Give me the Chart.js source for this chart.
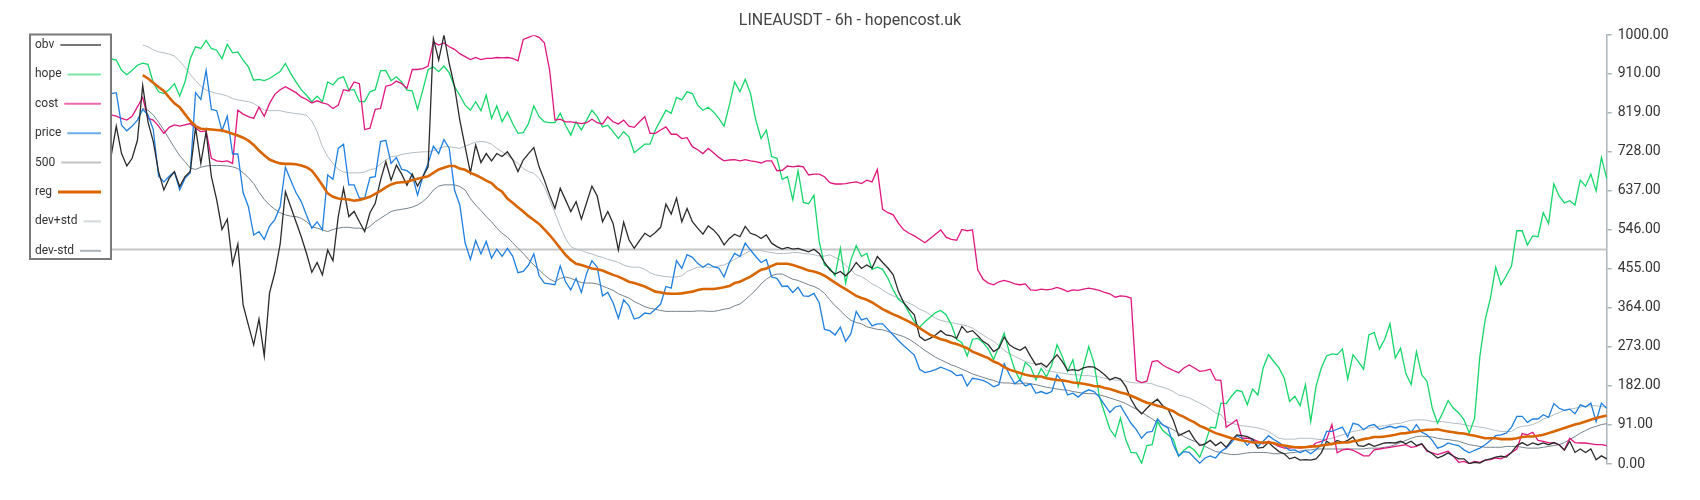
<!DOCTYPE html>
<html><head><meta charset="utf-8">
<script src="https://cdn.jsdelivr.net/npm/chart.js@4.4.1/dist/chart.umd.min.js"></script>
<style>html,body{margin:0;padding:0;background:#fff;}#wrap{position:relative;width:1700px;height:500px;}</style>
</head><body><div id="wrap"><canvas id="c" width="1700" height="500"></canvas></div>
<script>
// ---- data (early points are hidden behind the legend -> null) ----
const pointCount = 305;
const labels = Array.from({length: pointCount}, (_, i) => String(i));
const hiddenLead = 21;   // points hidden behind the legend box
const bandLead = 27;     // rolling series start later

const obvValues = [716,788,724,695,
713,755,883,798,752,682,639,666,682,647,670,682,785,701,775,670,616,547,571,466,513,371,324,278,338,252,399,446,512,635,600,565,530,491,447,470,441,
499,474,577,643,577,589,565,542,586,608,662,705,662,697,676,650,676,648,670,693,992,942,1000,934,880,802,740,679,744,703,724,707,724,717,
728,710,682,709,724,738,693,662,627,596,643,616,589,612,571,610,648,625,565,589,561,499,564,523,503,521,538,530,540,552,606,583,620,565,
596,565,550,536,555,546,532,511,526,536,530,554,538,534,526,534,515,507,501,505,501,503,499,495,501,491,470,453,443,449,439,451,470,456,
464,457,484,470,457,441,402,376,361,348,297,288,293,301,311,301,299,293,321,307,311,299,286,278,262,270,296,278,270,265,273,251,231,235,
226,241,255,239,218,220,218,224,227,226,218,208,196,202,198,181,151,130,117,130,142,151,136,128,102,66,72,78,58,43,47,55,43,51,
39,55,68,66,64,58,37,39,50,39,29,24,12,16,9,10,9,12,26,53,45,55,50,55,63,43,41,47,41,45,49,50,49,53,
47,53,43,47,32,24,14,19,26,18,12,12,1,4,2,9,12,16,18,16,27,43,50,43,49,45,49,45,50,45,32,53,27,35,27,35,10,19,12];

const hopeValues = [945,942,918,908,
918,930,935,932,889,868,864,873,887,858,891,945,973,969,988,969,965,945,979,959,961,942,926,895,897,894,899,907,915,934,911,891,873,860,845,858,845,
891,884,899,903,872,873,845,845,868,873,917,918,894,903,891,872,870,827,872,920,926,915,928,912,880,860,837,825,845,824,860,806,835,798,
821,794,771,773,794,835,810,798,796,796,818,790,767,798,779,802,825,810,786,790,775,759,775,763,726,736,746,746,779,802,825,818,855,849,
868,864,837,825,832,821,806,788,837,891,868,897,864,802,759,779,717,713,664,670,616,684,610,607,627,519,464,457,439,503,422,476,509,484,
491,454,459,454,433,406,384,375,353,332,319,332,342,353,358,348,325,291,283,252,291,293,283,268,244,274,305,259,220,195,237,226,196,223,
203,231,278,251,216,243,181,227,274,235,158,119,81,64,107,57,27,26,2,43,45,99,78,68,58,18,32,41,32,16,47,86,84,142,
141,158,172,169,138,175,161,224,255,239,224,200,146,158,136,185,99,181,224,252,257,255,268,198,255,239,221,301,307,268,291,327,247,270,
211,185,262,208,193,130,95,120,148,130,119,103,72,107,251,336,387,459,418,439,462,544,544,511,532,530,586,561,653,625,609,614,604,662,648,676,637,715,666];

const costValues = [814,811,806,802,
811,833,855,806,802,788,771,785,791,788,791,794,783,775,777,713,707,705,707,701,825,816,810,806,832,811,841,862,873,880,873,866,856,850,842,847,842,
839,829,837,873,870,891,887,780,783,827,829,881,884,893,887,876,920,920,922,928,984,977,982,973,967,957,950,943,948,943,946,946,948,947,
948,946,940,990,995,1000,995,982,918,802,804,798,798,796,794,796,804,796,793,810,798,793,802,788,785,798,810,771,771,779,786,769,769,759,
761,740,733,724,736,726,715,707,709,710,707,710,707,705,702,707,707,684,685,695,693,695,693,674,676,676,670,656,653,653,654,656,658,654,
662,658,687,594,586,581,561,546,538,532,524,516,526,536,546,529,524,522,547,544,546,453,431,422,418,425,428,425,420,418,420,406,405,408,
406,408,412,408,402,406,405,408,410,408,405,400,397,389,392,391,387,195,190,193,239,241,231,224,218,213,224,231,224,216,218,221,196,195,
86,94,103,60,60,58,53,47,53,47,41,37,37,39,37,39,39,49,53,57,92,26,33,35,32,26,19,19,33,35,37,39,41,43,
45,39,41,47,30,26,22,26,30,18,4,6,1,6,4,9,10,14,12,19,27,35,71,68,74,55,53,50,49,45,33,60,50,49,49,47,45,45,43];

const priceValues = [864,866,790,777,
788,802,827,814,780,671,658,671,681,639,666,679,866,850,918,827,824,777,811,723,723,633,600,534,542,524,555,570,600,692,662,633,612,580,550,565,546,
674,664,736,746,651,651,620,620,668,670,752,755,701,715,687,684,674,627,670,701,741,724,757,736,639,604,516,477,521,490,519,480,501,484,
503,485,446,449,464,490,439,422,420,418,462,425,406,433,400,445,474,459,392,400,376,340,383,369,338,342,352,350,361,373,414,410,474,456,
488,482,468,459,467,460,457,436,470,491,484,515,499,484,470,477,436,433,414,415,400,412,392,391,398,376,314,311,301,319,286,304,356,336,
340,322,327,327,314,301,288,276,265,254,221,213,216,220,226,221,216,206,208,182,200,198,195,189,180,185,234,208,187,196,182,187,165,169,
164,169,208,192,161,165,156,167,173,169,156,138,120,133,136,115,95,80,60,74,76,105,91,84,45,19,29,27,14,2,14,19,14,29,
37,50,66,60,43,58,41,53,66,57,50,41,32,33,26,32,24,33,45,76,76,81,86,63,95,92,80,89,92,81,84,88,84,88,
86,74,92,74,68,55,37,41,49,45,43,33,26,32,37,45,55,66,68,72,86,111,111,97,105,105,115,109,141,130,125,128,117,138,133,142,99,142,130];

const regValues = [907,899,889,879,870,855,841,832,816,800,788,782,781,780,779,778,774,770,766,761,754,744,731,720,710,705,701,700,700,699,696,692,684,668,650,
631,623,619,618,617,614,616,619,623,630,637,645,652,656,657,658,662,665,668,671,679,687,691,695,695,689,686,679,674,668,661,655,643,635,
619,609,599,589,578,569,560,547,534,519,503,488,476,467,464,460,456,454,451,446,441,437,431,425,422,418,414,408,402,400,398,397,397,398,
400,402,406,408,408,408,410,412,415,422,425,431,437,445,453,456,462,467,467,467,464,460,456,451,449,445,439,431,423,415,408,400,392,387,
383,377,369,361,355,349,344,338,332,325,317,309,301,296,291,288,283,280,275,270,262,257,252,247,239,234,226,220,216,212,208,206,204,204,
200,198,196,195,193,190,189,187,185,182,181,177,175,171,167,164,159,154,148,143,140,136,133,128,123,115,110,103,97,89,84,78,72,68,
64,60,58,55,53,50,50,50,50,49,45,43,41,39,39,39,41,41,43,45,47,49,50,50,53,55,58,60,63,63,64,66,68,71,
72,74,76,78,80,80,81,78,76,74,72,71,68,66,63,60,60,60,58,58,58,60,63,64,64,66,68,72,76,80,84,88,92,95,99,103,107,110,113];

const devPlusValues = [977,973,966,961,959,956,951,940,925,909,894,881,872,868,864,862,858,852,849,847,845,841,833,825,824,824,824,821,819,817,816,813,800,775,740,
717,701,687,681,679,679,679,681,686,689,700,709,717,718,722,724,726,727,728,728,731,736,740,740,738,736,741,746,751,752,751,746,736,728,
720,710,701,689,682,678,666,647,616,586,554,526,507,501,498,493,490,485,482,477,474,470,464,460,459,459,454,446,441,439,437,436,436,439,
449,454,459,460,459,459,462,464,470,477,484,491,498,499,498,495,493,491,491,491,493,493,491,490,488,485,485,488,482,476,464,453,441,437,
429,420,414,406,398,392,387,381,375,369,361,356,348,340,335,332,330,327,325,322,317,309,301,293,286,276,265,257,251,245,239,235,234,231,
218,216,213,212,210,208,208,206,206,204,203,200,198,196,195,193,190,189,189,189,187,182,179,175,169,161,158,154,148,142,136,128,119,115,
99,95,92,89,88,86,84,81,76,68,60,58,58,58,60,60,60,58,57,58,60,64,68,72,76,78,81,84,86,88,89,92,94,95,
99,102,103,103,102,99,99,99,97,95,94,92,89,88,86,84,81,78,76,76,76,84,88,89,92,97,105,109,115,120,125,128,130,133,134,136,136,134,133];

const devMinusValues = [829,825,814,797,779,758,738,719,705,690,687,692,695,696,696,696,695,693,689,679,668,654,634,617,604,594,586,581,578,577,573,565,553,550,546,
542,547,550,552,552,550,550,547,554,565,573,581,589,592,594,596,599,604,612,623,639,648,651,651,651,647,639,619,604,591,577,565,550,538,
529,516,503,491,477,464,453,441,431,425,433,436,433,428,423,422,422,420,415,410,405,397,392,387,379,373,367,363,361,358,356,356,356,356,
356,356,357,357,356,356,358,361,363,369,373,383,394,406,420,431,439,443,443,437,431,428,423,418,414,408,398,383,369,358,345,335,330,327,
320,317,314,313,309,305,301,297,291,283,274,265,257,249,243,237,231,227,221,216,210,206,202,198,195,190,189,189,187,187,189,187,185,182,
179,177,175,173,172,169,167,165,164,164,161,158,154,150,146,141,134,128,120,113,105,97,92,86,80,72,64,58,53,47,41,35,29,27,
24,22,22,24,26,27,27,27,26,24,24,24,26,27,30,32,33,35,35,35,35,35,35,35,35,35,35,37,37,37,39,41,45,50,
55,60,64,65,64,63,60,58,57,55,53,49,45,43,41,39,39,39,39,41,41,41,39,37,37,37,39,41,43,45,50,57,64,72,78,84,88,92,94];

const level500 = 500;
const yTickValues = [0,91,182,273,364,455,546,637,728,819,910,1000];
const titleText = 'LINEAUSDT - 6h - hopencost.uk';

function pad(n, arr) { return new Array(n).fill(null).concat(arr); }

const COLORS = {
  obv: '#2b2b2b', hope: '#16d66a', cost: '#e0167f', price: '#1f7fe0',
  l500: '#c6c6c6', reg: '#d96500', devPlus: '#b3bcc2', devMinus: '#75828b'
};

const legendItems = [
  {label: 'obv', color: '#777777', w: 2},
  {label: 'hope', color: '#7be6a6', w: 2},
  {label: 'cost', color: '#ee6aaf', w: 2},
  {label: 'price', color: '#6cadee', w: 2},
  {label: '500', color: '#c4c4c4', w: 2},
  {label: 'reg', color: '#d96500', w: 3},
  {label: 'dev+std', color: '#d2d8dc', w: 2},
  {label: 'dev-std', color: '#a9b2b8', w: 2}
];

const legendPlugin = {
  id: 'boxLegend',
  afterDraw(chart) {
    const c = chart.ctx;
    c.save();
    c.fillStyle = '#ffffff';
    c.fillRect(30, 34, 81, 225);
    c.strokeStyle = '#7a7a7a';
    c.lineWidth = 2;
    c.strokeRect(30, 34.5, 81, 224.5);
    c.font = '12px Roboto, "Noto Sans", sans-serif';
    c.textBaseline = 'middle';
    legendItems.forEach((it, k) => {
      const y = 45 + 29.4 * k;
      c.fillStyle = '#333333';
      c.fillText(it.label, 35, y);
      const tw = c.measureText(it.label).width;
      c.beginPath();
      c.moveTo(35 + tw + 6, y);
      c.lineTo(101, y);
      c.strokeStyle = it.color;
      c.lineWidth = it.w;
      c.stroke();
    });
    c.restore();
  }
};

function ds(label, data, color, width) {
  return {label, data, borderColor: color, backgroundColor: color, borderWidth: width,
          pointRadius: 0, tension: 0, fill: false, spanGaps: false};
}

Chart.defaults.font.family = 'Roboto, "Noto Sans", sans-serif';

new Chart(document.getElementById('c').getContext('2d'), {
  type: 'line',
  data: {
    labels,
    datasets: [
      ds('reg', pad(bandLead, regValues), COLORS.reg, 2.6),
      ds('obv', pad(hiddenLead, obvValues), COLORS.obv, 1.3),
      ds('price', pad(hiddenLead, priceValues), COLORS.price, 1.3),
      ds('cost', pad(hiddenLead, costValues), COLORS.cost, 1.3),
      ds('hope', pad(hiddenLead, hopeValues), COLORS.hope, 1.3),
      ds('dev+std', pad(bandLead, devPlusValues), COLORS.devPlus, 1),
      ds('dev-std', pad(bandLead, devMinusValues), COLORS.devMinus, 1),
      ds('500', [{x: labels[hiddenLead], y: level500}, {x: labels[pointCount - 1], y: level500}], COLORS.l500, 2)
    ]
  },
  options: {
    responsive: false,
    animation: false,
    events: [],
    layout: {padding: {left: 0, right: 0, top: 0, bottom: 36}},
    plugins: {
      legend: {display: false},
      tooltip: {enabled: false},
      title: {display: true, text: titleText, color: '#444444',
              font: {size: 16, weight: 'normal'}, padding: {top: 11, bottom: 5}}
    },
    scales: {
      x: {display: false},
      y: {
        position: 'right', min: 0, max: 1000,
        afterBuildTicks: s => { s.ticks = yTickValues.map(v => ({value: v})); },
        afterFit: s => { s.width = 93.3; },
        ticks: {callback: v => Number(v).toFixed(2), color: '#333333', font: {size: 14}, padding: 6},
        grid: {drawOnChartArea: false, drawTicks: true, tickLength: 5, color: '#aab4bb', lineWidth: 1.5},
        border: {display: true, color: '#aab4bb', width: 1.5}
      }
    }
  },
  plugins: [legendPlugin]
});
</script>
</body></html>
